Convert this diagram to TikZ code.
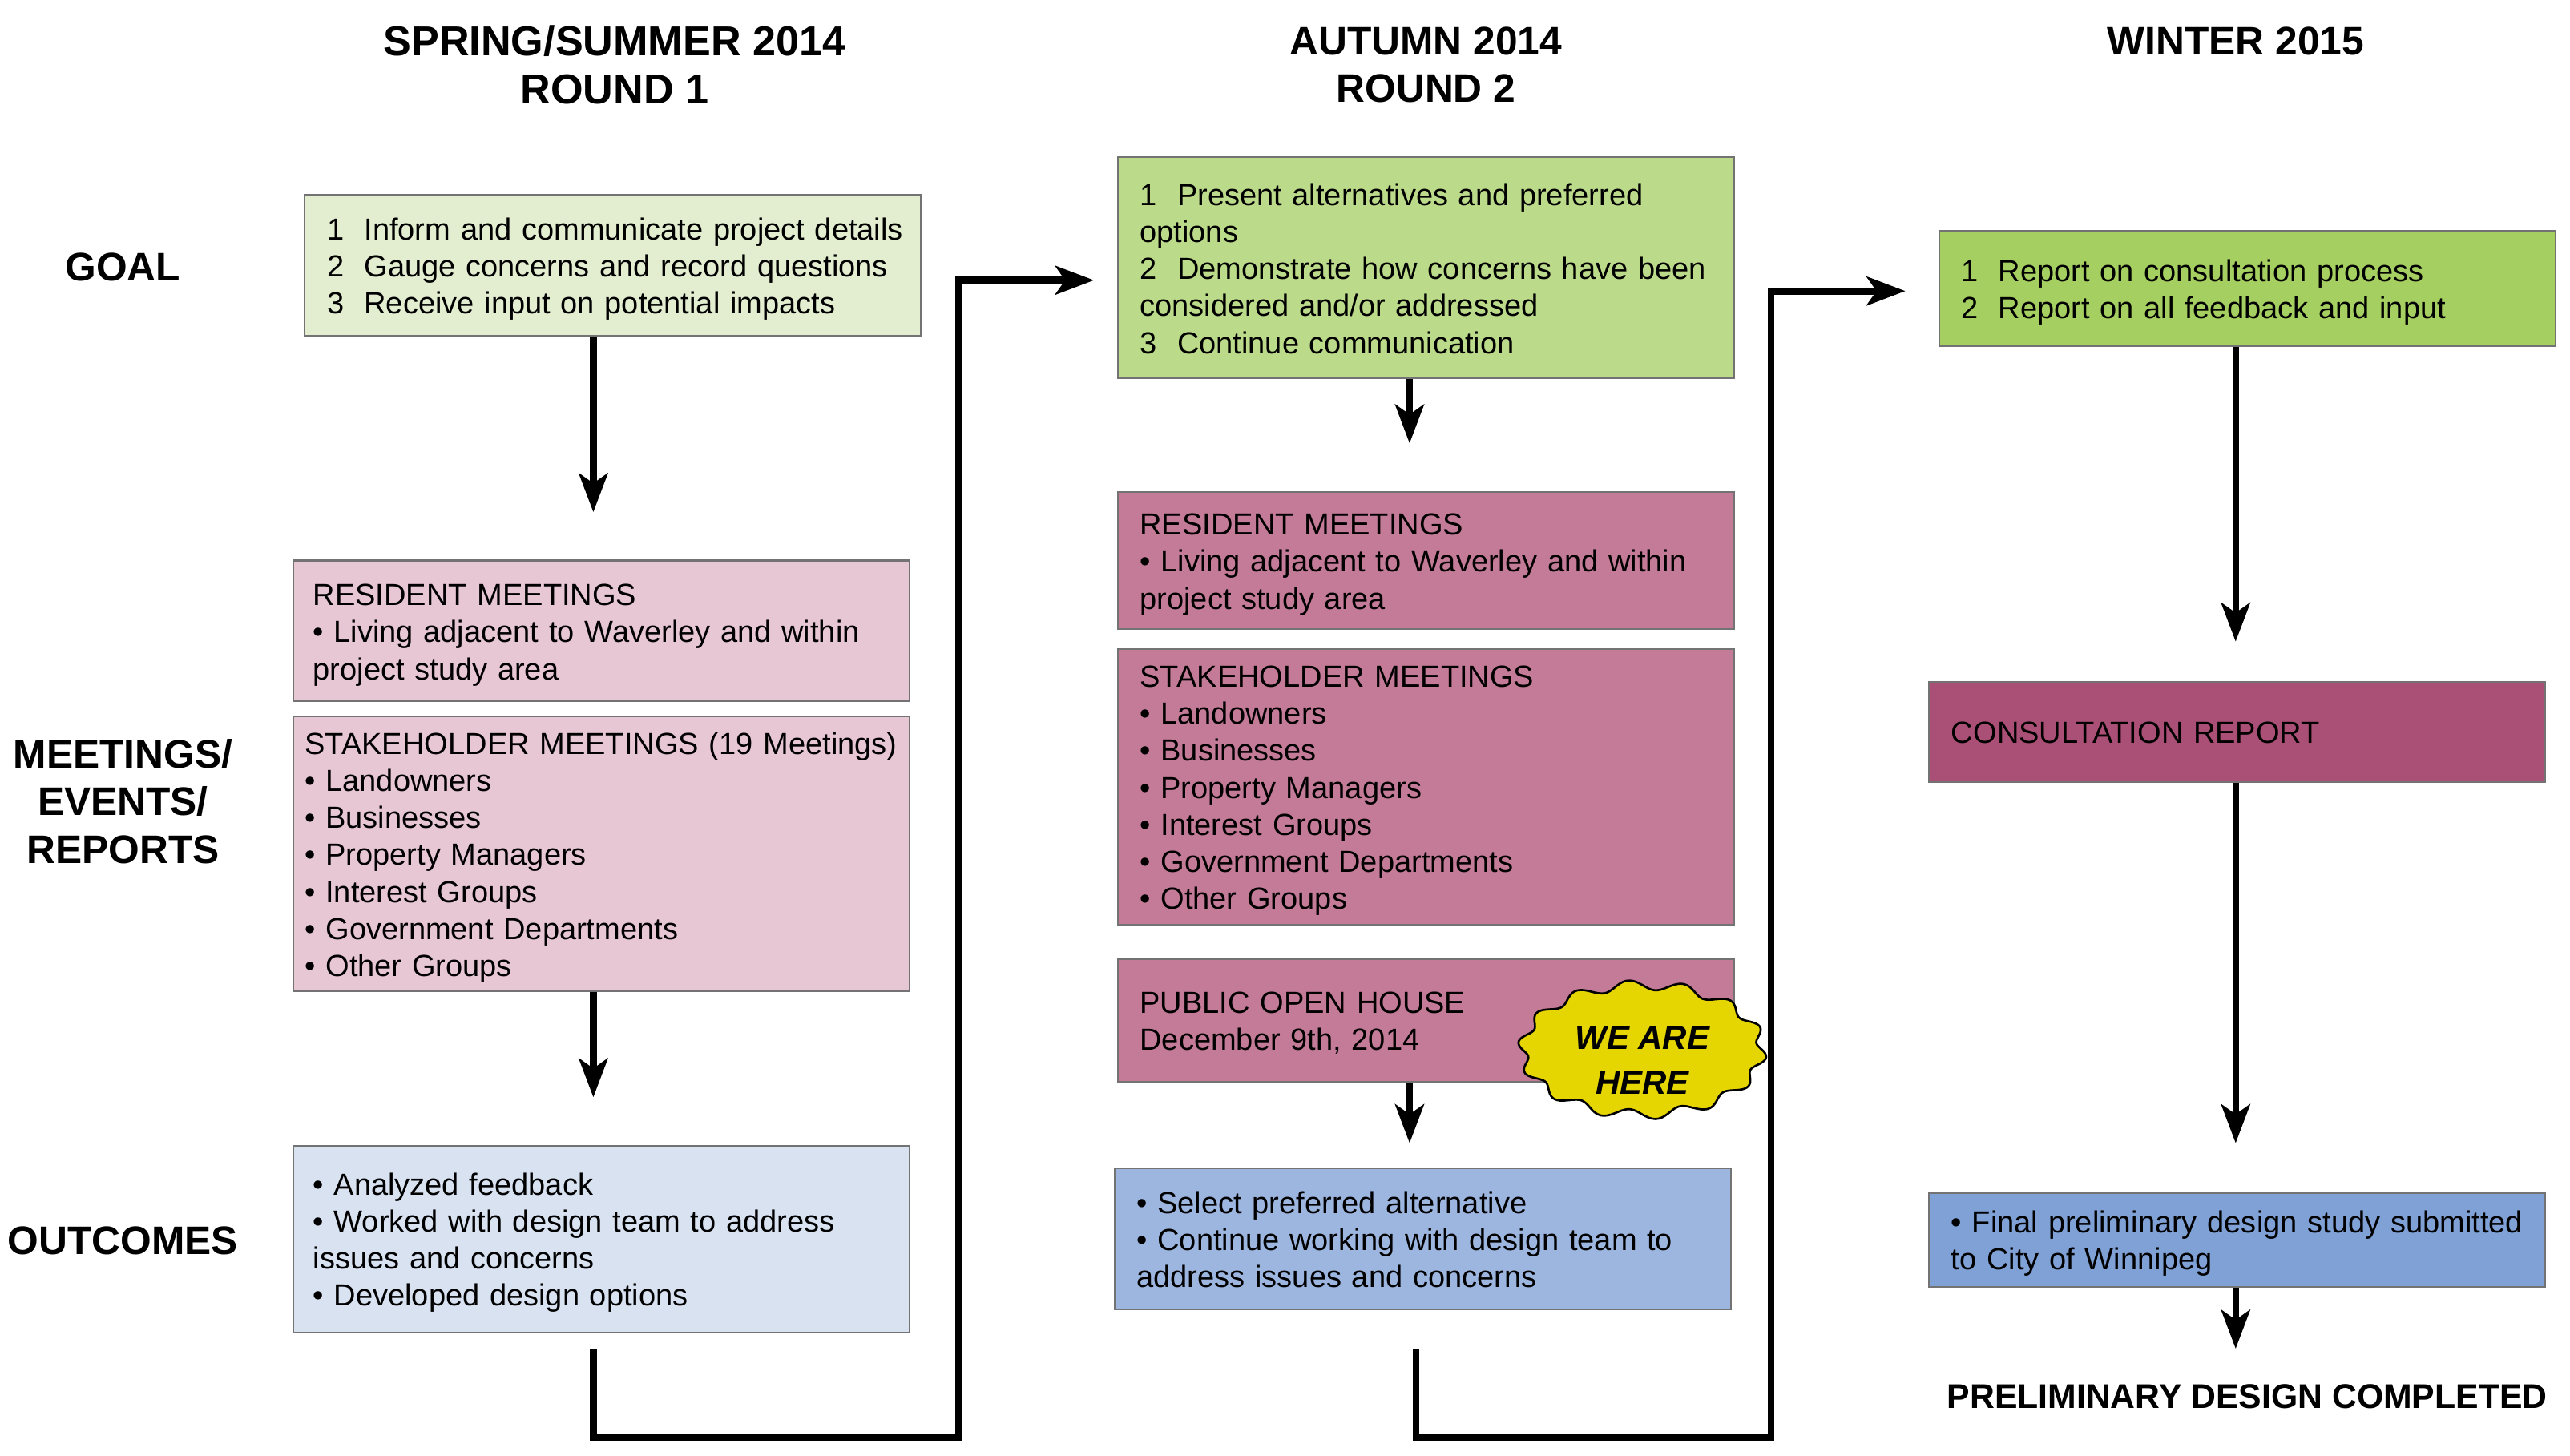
\documentclass[tikz,border=0pt]{standalone}
\usepackage{fontspec}
\setmainfont{Liberation Sans}
\usetikzlibrary{arrows.meta, calc, positioning}

\definecolor{goalA}{RGB}{227,238,209}
\definecolor{goalB}{RGB}{188,219,138}
\definecolor{goalC}{RGB}{165,207,96}
\definecolor{meetA}{RGB}{232,199,212}
\definecolor{meetB}{RGB}{196,123,152}
\definecolor{meetC}{RGB}{170,79,117}
\definecolor{outA}{RGB}{216,226,241}
\definecolor{outB}{RGB}{157,182,224}
\definecolor{outC}{RGB}{127,161,214}
\definecolor{hereyellow}{RGB}{229,213,0}

% lines of a box, never broken
\newcommand{\boxlines}[1]{\raisebox{-2.5pt}[\height][\depth]{\begin{tabular}{@{}l@{}}#1\end{tabular}}}

\begin{document}
\begin{tikzpicture}[x=1pt, y=-1pt]
			\tikzstyle{box}=[draw=black!55, line width=1pt, rectangle, align=left, text width=352pt, inner xsep=12pt, inner ysep=0pt, minimum width=376pt, font=\fontsize{18.6}{22.6}\selectfont]
			\tikzstyle{heading}=[font=\bfseries\fontsize{24.3}{29}\selectfont, align=center, inner sep=0pt]
			\tikzstyle{flow}=[line width=4.2pt, line join=miter, -{Stealth[length=23.6pt, width=17.5pt, inset=6pt]}]
			
			\useasboundingbox (0,0) rectangle (1568,888);
			
			% Column lines for the arrows
			\coordinate (col1) at (362,0);
			\coordinate (col2) at (860,0);
			\coordinate (col3) at (1364,0);
			\coordinate (turn1) at (584.7,877);
			\coordinate (turn2) at (1080.5,877);
			
			% Headings and row labels
			\node[heading, font=\bfseries\fontsize{25.5}{29}\selectfont] (spring) at (375,39.5) {SPRING/SUMMER 2014\\ROUND 1};
			\node[heading] (autumn) at (870,39.5) {AUTUMN 2014\\ROUND 2};
			\node[heading] (winter) at (1364,25) {WINTER 2015};
			\node[heading] (goal) at (75,163) {GOAL};
			\node[heading] (meet) at (75,489) {MEETINGS/\\EVENTS/\\REPORTS};
			\node[heading] (outc) at (75,757) {OUTCOMES};
			
			% Round 1
			\node[box, fill=goalA, minimum height=86pt, inner xsep=13.5pt, text width=349pt] (goal1) at (374,162) {\boxlines{1~~Inform and communicate project details\\2~~Gauge concerns and record questions\\3~~Receive input on potential impacts}};
			\node[box, fill=meetA, minimum height=86pt] (res1) at (367,385) {\boxlines{RESIDENT MEETINGS\\• Living adjacent to Waverley and within\\project study area}};
			\node[box, fill=meetA, minimum height=168pt, text width=362pt, inner xsep=7pt] (stake1) at (367,521) {\boxlines{STAKEHOLDER MEETINGS (19 Meetings)\\• Landowners\\• Businesses\\• Property Managers\\• Interest Groups\\• Government Departments\\• Other Groups}};
			\node[box, fill=outA, minimum height=114pt] (out1) at (367,756) {\boxlines{• Analyzed feedback\\• Worked with design team to address\\issues and concerns\\• Developed design options}};
			
			% Round 2
			\node[box, fill=goalB, minimum height=135pt, inner xsep=13.5pt, text width=349pt] (goal2) at (870,163.5) {\boxlines{1~~Present alternatives and preferred\\options\\2~~Demonstrate how concerns have been\\considered and/or addressed\\3~~Continue communication}};
			\node[box, fill=meetB, minimum height=84pt, inner xsep=13.5pt, text width=349pt] (res2) at (870,342) {\boxlines{RESIDENT MEETINGS\\• Living adjacent to Waverley and within\\project study area}};
			\node[box, fill=meetB, minimum height=168pt, inner xsep=13.5pt, text width=349pt] (stake2) at (870,480) {\boxlines{STAKEHOLDER MEETINGS\\• Landowners\\• Businesses\\• Property Managers\\• Interest Groups\\• Government Departments\\• Other Groups}};
			\node[box, fill=meetB, minimum height=75pt, inner xsep=13.5pt, text width=349pt] (pub) at (870,622.5) {\boxlines{PUBLIC OPEN HOUSE\\December 9th, 2014}};
			\node[box, fill=outB, minimum height=86pt, inner xsep=13.5pt, text width=349pt] (out2) at (868,756) {\boxlines{• Select preferred alternative\\• Continue working with design team to\\address issues and concerns}};
			
			% Winter
			\node[box, fill=goalC, minimum height=70pt, inner xsep=13.5pt, text width=349pt] (goal3) at (1371,176) {\boxlines{1~~Report on consultation process\\2~~Report on all feedback and input}};
			\node[box, fill=meetC, minimum height=61pt, inner xsep=13.5pt, text width=349pt] (report) at (1365,446.5) {\boxlines{CONSULTATION REPORT}};
			\node[box, fill=outC, minimum height=57pt, inner xsep=13.5pt, text width=349pt] (final) at (1365,756.5) {\boxlines{• Final preliminary design study submitted\\to City of Winnipeg}};
			\node[font=\bfseries\fontsize{20.9}{25}\selectfont, inner sep=0pt] (done) at (1371,852) {PRELIMINARY DESIGN COMPLETED};
			
			% We are here
			\filldraw[fill=hereyellow, draw=black, line width=1.3pt] plot[domain=0:360, samples=241] ({1002+(73+3*sin(14*\x))*cos(\x)}, {640.5+(39.5+3*sin(14*\x))*sin(\x)}) -- cycle;
			\node[font=\bfseries\itshape\fontsize{20.5}{27.5}\selectfont, align=center, inner sep=0pt] (here) at (1002,647) {WE ARE\\HERE};
			
			% Arrows down each column
			\draw[flow, shorten >=29pt] (goal1.south -| col1) -- (res1.north -| col1);
			\draw[flow, shorten >=29pt] (stake1.south -| col1) -- (out1.north -| col1);
			\draw[flow, shorten >=29pt] (goal2.south -| col2) -- (res2.north -| col2);
			\draw[flow, shorten >=15pt] (pub.south -| col2) -- (out2.north -| col2);
			\draw[flow, shorten >=24pt] (goal3.south -| col3) -- (report.north -| col3);
			\draw[flow, shorten >=30pt] (report.south -| col3) -- (final.north -| col3);
			\draw[flow, shorten >=21.5pt] (final.south -| col3) -- (done.north -| col3);
			
			% Arrows from one round to the next
			\draw[flow, shorten <=10pt, shorten >=14pt] (out1.south -| col1) |- (turn1) |- ([yshift=-7.5pt]goal2.west);
			\draw[flow, shorten <=24pt, shorten >=20pt] ([xshift=4pt]out2.south -| col2) |- (turn2) |- ([yshift=-1.6pt]goal3.west);
		\end{tikzpicture}
\end{document}
